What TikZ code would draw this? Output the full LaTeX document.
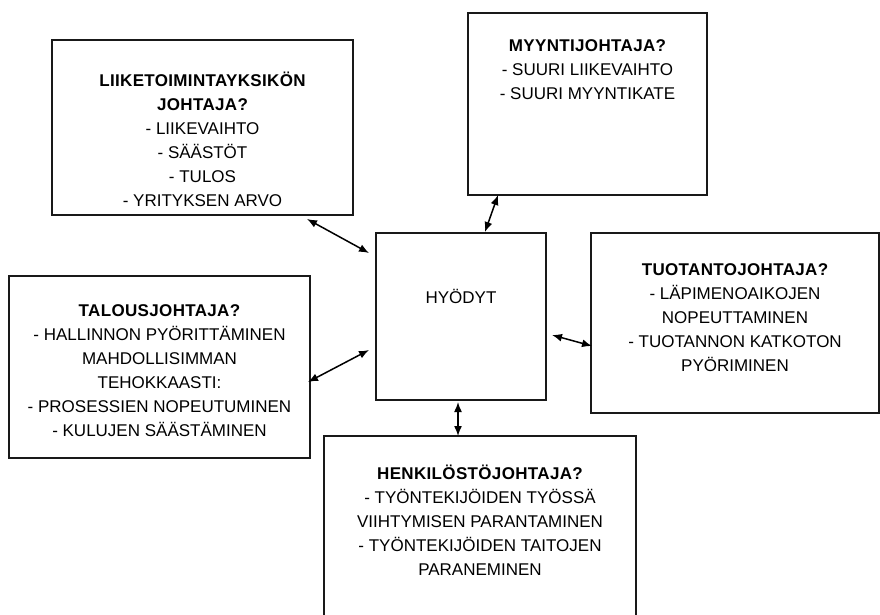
\documentclass[tikz,border=0pt]{standalone}
\usepackage{fontspec}
\setmainfont{Liberation Sans}
\usetikzlibrary{arrows.meta}
% bold headings, lightly tracked
\newcommand{\head}[1]{{\bfseries\addfontfeature{LetterSpace=2}#1}}
\begin{document}
\begin{tikzpicture}[x=1pt,y=-1pt,
  box/.style={draw=black!90,line width=1.2pt,inner sep=0pt,outer sep=0pt},
  txt/.style={align=center,font=\fontsize{17}{24}\selectfont,inner sep=0pt},
  link/.style={line width=1.5pt,{Latex[length=10pt,width=8pt]}-{Latex[length=10pt,width=8pt]}}]
\useasboundingbox[fill=white] (0,0) rectangle (880,614);

% frames
\node[box,minimum width=301pt,minimum height=175pt] (liike)  at (202.5,127.5) {};
\node[box,minimum width=239pt,minimum height=182pt] (myynti) at (587.5,104) {};
\node[box,minimum width=170pt,minimum height=167pt] (hyoty)  at (461,316.5) {};
\node[box,minimum width=288pt,minimum height=180pt] (tuot)   at (735,323) {};
\node[box,minimum width=301pt,minimum height=182pt] (talous) at (159.5,367) {};
\node[box,minimum width=312pt,minimum height=194pt] (henk)   at (480,533) {};

% texts
\node[txt] (liiket) at (202.5,139) {\head{LIIKETOIMINTAYKSIKÖN}\\\head{JOHTAJA?}\\- LIIKEVAIHTO\\- SÄÄSTÖT\\- TULOS\\- YRITYKSEN ARVO};
\node[txt] (myyntit) at (587.5,70) {\head{MYYNTIJOHTAJA?}\\- SUURI LIIKEVAIHTO\\- SUURI MYYNTIKATE};
\node[txt] (hyotyt) at (461,296) {HYÖDYT};
\node[txt] (tuott) at (735,318) {\head{TUOTANTOJOHTAJA?}\\- LÄPIMENOAIKOJEN\\NOPEUTTAMINEN\\- TUOTANNON KATKOTON\\PYÖRIMINEN};
\node[txt] (taloust) at (159.5,371) {\head{TALOUSJOHTAJA?}\\- HALLINNON PYÖRITTÄMINEN\\MAHDOLLISIMMAN\\TEHOKKAASTI:\\- PROSESSIEN NOPEUTUMINEN\\- KULUJEN SÄÄSTÄMINEN};
\node[txt] (henkt) at (480,520) {\head{HENKILÖSTÖJOHTAJA?}\\- TYÖNTEKIJÖIDEN TYÖSSÄ\\VIIHTYMISEN PARANTAMINEN\\- TYÖNTEKIJÖIDEN TAITOJEN\\PARANEMINEN};

% connectors
\draw[link] ([shift={(-46,4)}]liike.south east) -- ([shift={(-7,20)}]hyoty.north west);
\draw[link] ([shift={(24,-1)}]hyoty.north) -- ([shift={(30,0)}]myynti.south west);
\draw[link] ([shift={(6,18.5)}]hyoty.east) -- ([shift={(1,23)}]tuot.west);
\draw[link] ([shift={(-7,33.5)}]hyoty.west) -- ([shift={(-2,15)}]talous.east);
\draw[link] ([shift={(-3,2)}]hyoty.south) -- ([shift={(-22,0)}]henk.north);
\end{tikzpicture}
\end{document}
